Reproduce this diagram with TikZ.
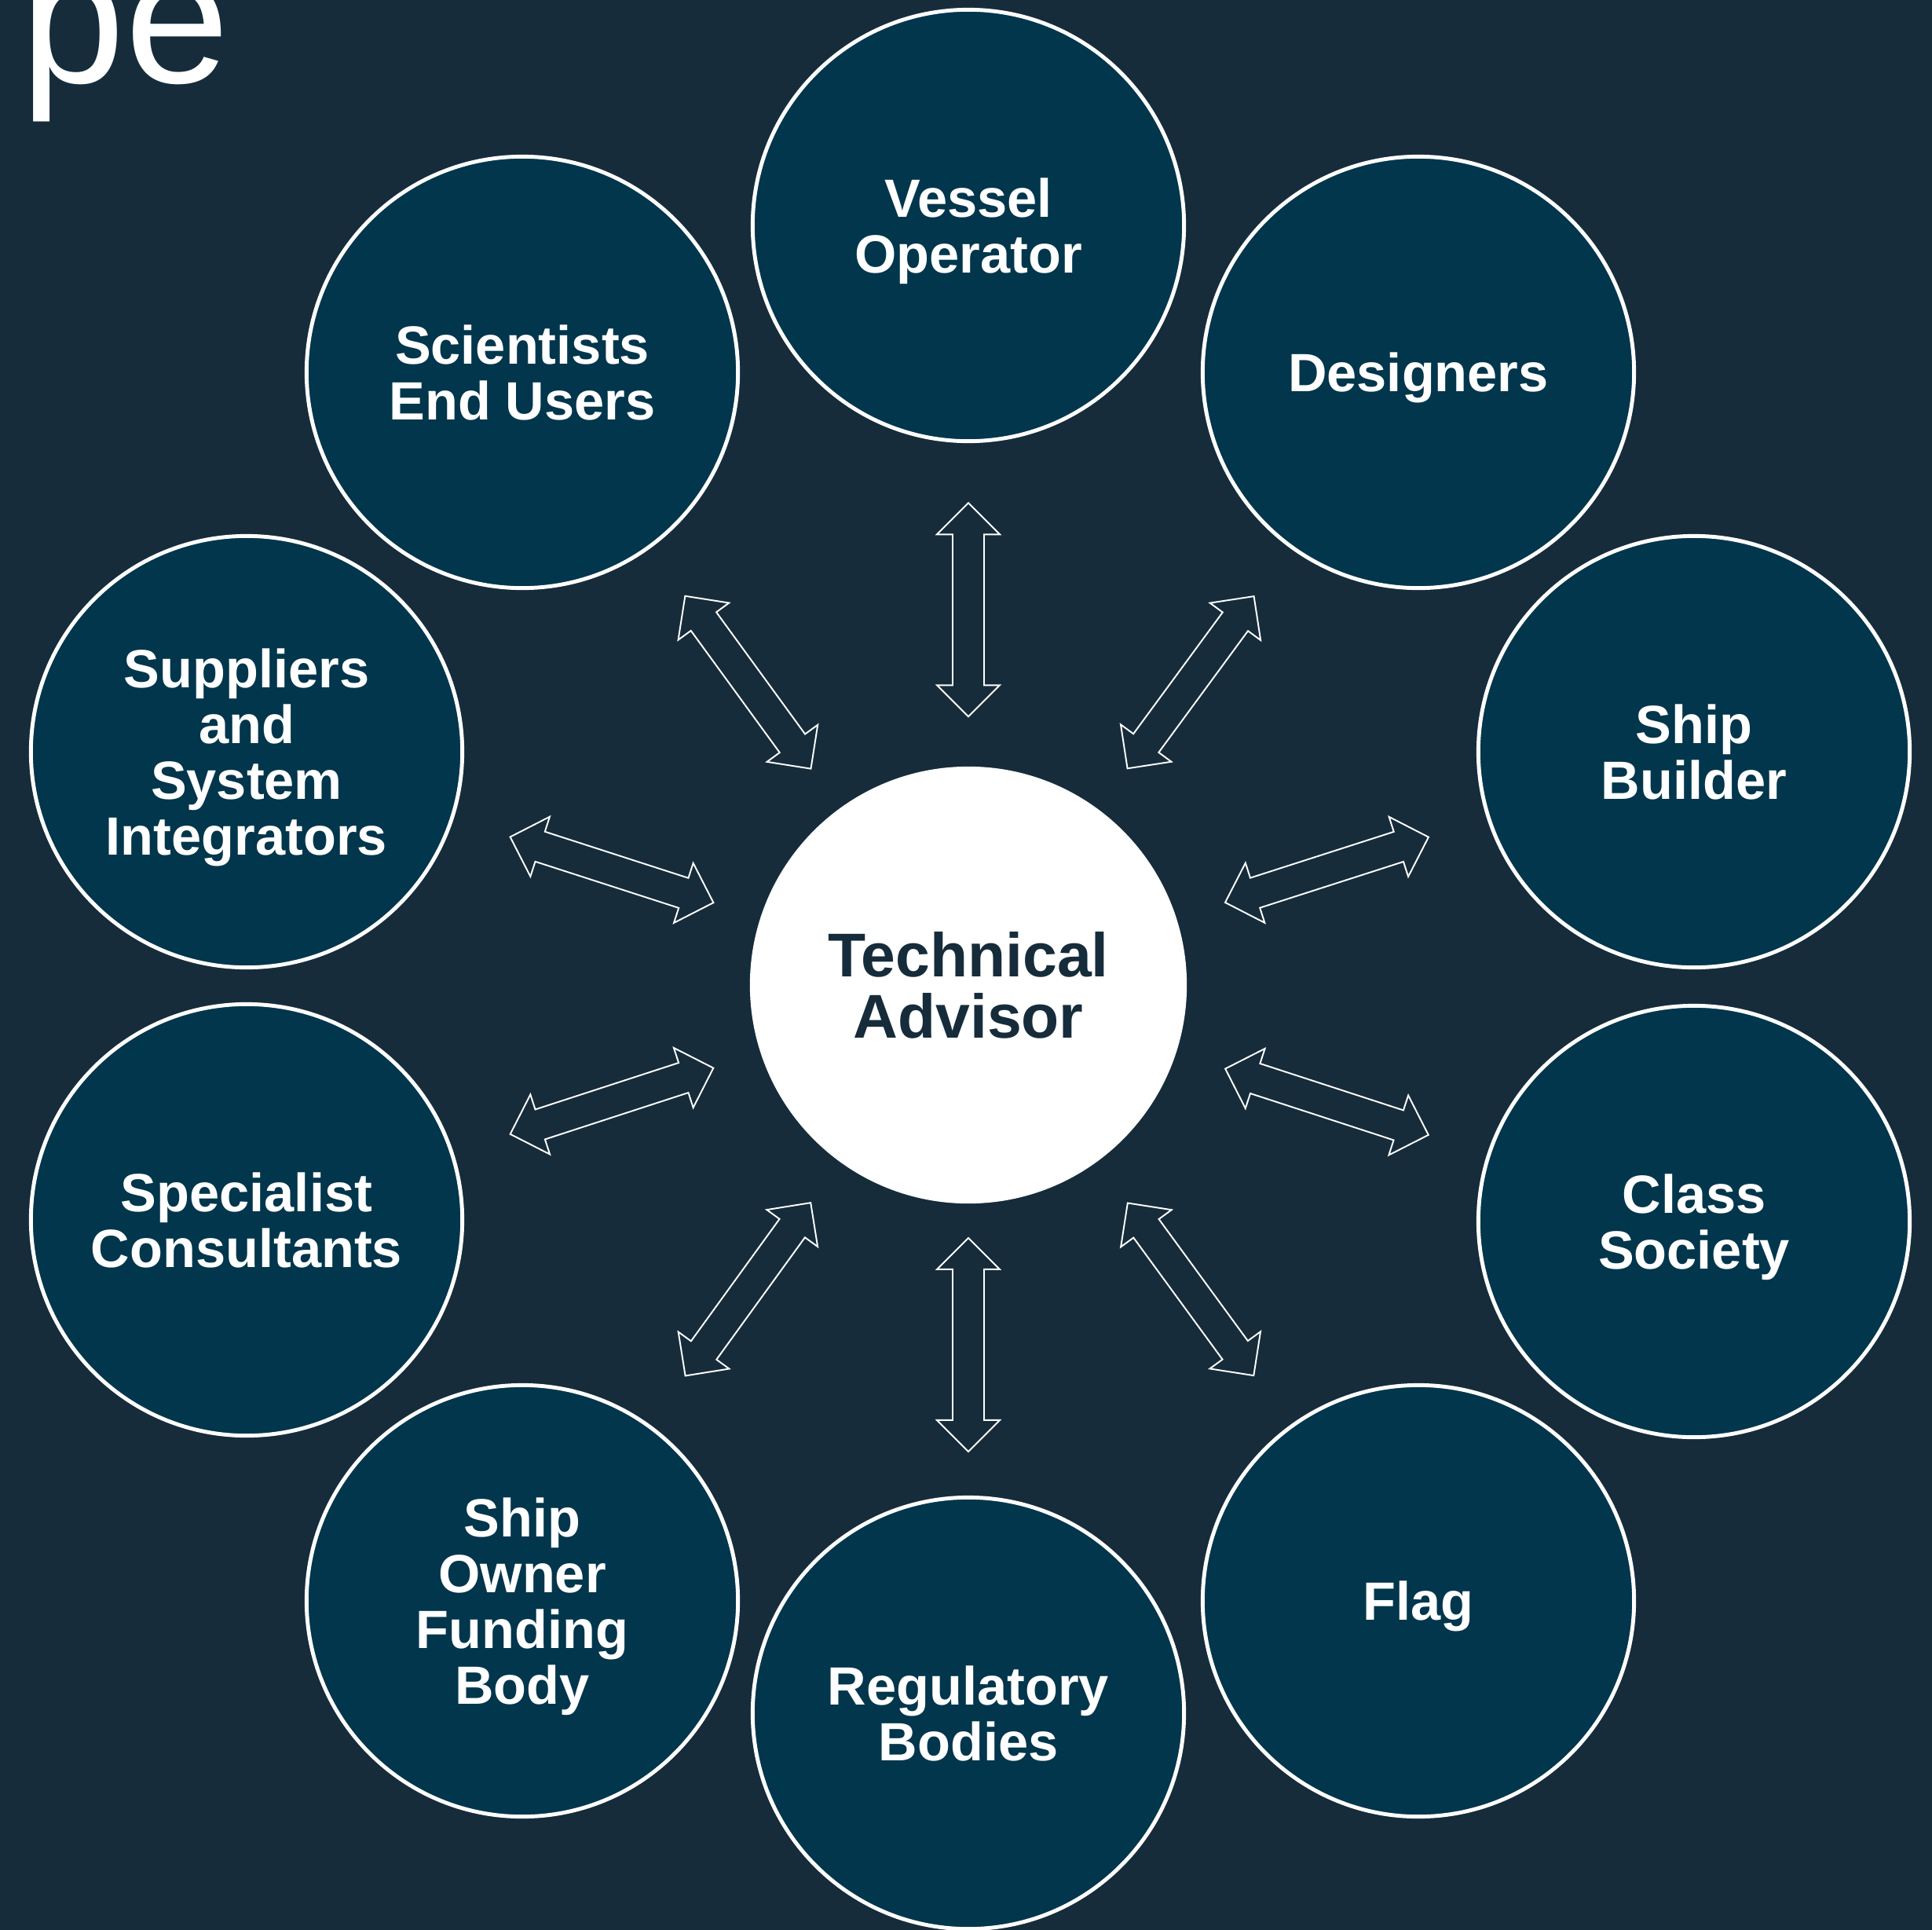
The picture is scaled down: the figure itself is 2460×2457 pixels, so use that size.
\documentclass[tikz,border=0pt]{standalone}
\usepackage{fontspec}
\setmainfont{Liberation Sans}
\usetikzlibrary{calc}

\definecolor{pagebg}{RGB}{22,44,59}
\definecolor{discfill}{RGB}{2,54,76}
\definecolor{hubtext}{RGB}{22,44,59}

\tikzset{
  x=0.01cm, y=-0.01cm,
  party/.style={circle, draw=white, line width=1.4pt, fill=discfill,
    minimum size=5.49cm, inner sep=0pt, align=center, text=white,
    text depth=0pt,
    font=\bfseries\fontsize{19.5}{20.2}\selectfont},
  hub/.style={circle, fill=white, minimum size=5.56cm, inner sep=0pt,
    align=center, text=hubtext, text depth=0pt,
    font=\bfseries\fontsize{22.4}{22.2}\selectfont},
  linkbox/.style={draw=white, line width=0.55pt, line join=miter},
  heading/.style={anchor=base west, inner sep=0pt, text=white,
    font=\fontsize{67.9}{72}\selectfont}
}

% two-headed block arrow laid along the line from #1 to #2
\newcommand\linkarrow[2]{%
  \pgfpointdiff{\pgfpointanchor{#1}{center}}{\pgfpointanchor{#2}{center}}%
  \pgfgetlastxy{\linkdx}{\linkdy}%
  \pgfmathsetmacro\linkangle{atan2(\linkdy,\linkdx)}%
  \draw[linkbox, shift={($(#1)!0.494!(#2)$)}, rotate=\linkangle]
    (-136,0) -- (-96,-40) -- (-96,-20) -- (96,-20) -- (96,-40) -- (136,0)
    -- (96,40) -- (96,20) -- (-96,20) -- (-96,40) -- cycle;
}

\begin{document}
\begin{tikzpicture}
  \useasboundingbox (0,0) rectangle (2460,2457);
  \clip (0,0) rectangle (2460,2457);
  \fill[pagebg] (0,0) rectangle (2460,2457);

  \node[heading] (title) at (26,105) {pe};

  \node[hub] (ta) at (1233,1254) {Technical\\Advisor};

  \node[party] (vo) at (1233,287)  {Vessel\\Operator};
  \node[party] (de) at (1806,474)  {Designers};
  \node[party] (sb) at (2157,957)  {Ship\\Builder};
  \node[party] (cs) at (2157,1555) {Class\\Society};
  \node[party] (fl) at (1806,2038) {Flag};
  \node[party] (rb) at (1233,2181) {Regulatory\\Bodies};
  \node[party] (so) at (665,2038)  {Ship\\Owner\\Funding\\Body};
  \node[party] (sc) at (314,1553)  {Specialist\\Consultants};
  \node[party] (si) at (314,957)   {Suppliers\\and\\System\\Integrators};
  \node[party] (se) at (665,474)   {Scientists\\End Users};

  \foreach \other in {vo,de,sb,cs,fl,rb,so,sc,si,se}
    \linkarrow{ta}{\other};
\end{tikzpicture}
\end{document}
